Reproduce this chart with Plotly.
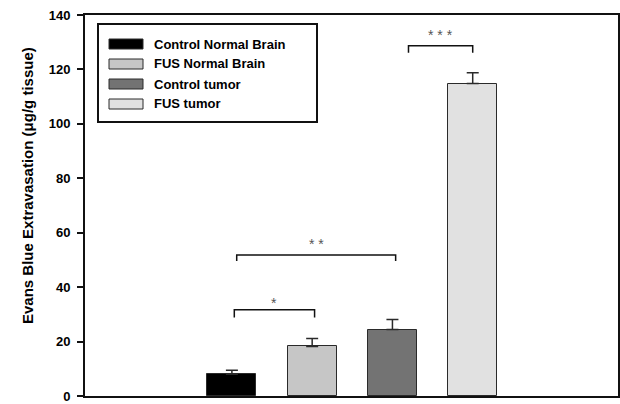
import plotly.graph_objects as go

# ---- data ----
groups = ["Control Normal Brain", "FUS Normal Brain", "Control tumor", "FUS tumor"]
values = [8.0, 18.2, 24.4, 114.8]
errors = [1.5, 2.9, 3.7, 4.0]
colors = ["#000000", "#c6c6c6", "#737373", "#e1e1e1"]
y_ticks = [0, 20, 40, 60, 80, 100, 120, 140]
y_title = "Evans Blue Extravasation (μg/g tissue)"

# significance brackets
sig_x0 = [0.03, 0.06, 2.2]
sig_x1 = [1.03, 2.04, 3.0]
sig_top = [31.7, 51.8, 128.7]
sig_leg = [28.8, 49.6, 126.1]
sig_star_y = [34.0, 56.0, 132.6]
sig_labels = ["*", "* *", "* * *"]

positions = list(range(len(groups)))

# plot-area pixel geometry (for the hand-made legend)
L, R, T, B = 85, 618, 15, 396
W, H = 620, 404


def px(x):
    return (x - L) / (R - L)


def py(y):
    return (B - y) / (B - T)


fig = go.Figure()
for i, g in enumerate(groups):
    fig.add_trace(go.Bar(
        x=[positions[i]], y=[values[i]], name=g,
        width=0.61,
        marker=dict(color=colors[i], line=dict(color="#2a2a2a", width=1)),
        error_y=dict(type="data", symmetric=False, array=[errors[i]], arrayminus=[0],
                     color="#2a2a2a", thickness=1.5, width=6),
        showlegend=False,
    ))

shapes = []
annotations = []
for x0, x1, top, leg, sy, lab in zip(sig_x0, sig_x1, sig_top, sig_leg, sig_star_y, sig_labels):
    shapes.append(dict(type="path", xref="x", yref="y",
                       path=f"M {x0},{leg} L {x0},{top} L {x1},{top} L {x1},{leg}",
                       line=dict(color="#111111", width=1.5)))
    annotations.append(dict(x=(x0 + x1) / 2, y=sy, xref="x", yref="y", text=lab,
                            showarrow=False, font=dict(size=14, color="#555555",
                                                       family="Arial, Liberation Sans")))

# hand-made legend (wide swatches as in the reference)
shapes.append(dict(type="rect", xref="paper", yref="paper",
                   x0=px(98), x1=px(317), y0=py(122), y1=py(24),
                   line=dict(color="#111111", width=2), fillcolor="white", layer="above"))
for i, g in enumerate(groups):
    yc = 44 + 20 * i
    shapes.append(dict(type="rect", xref="paper", yref="paper",
                       x0=px(109), x1=px(143), y0=py(yc + 5), y1=py(yc - 5),
                       line=dict(color="#2a2a2a", width=1), fillcolor=colors[i], layer="above"))
    annotations.append(dict(x=px(152), y=py(yc), xref="paper", yref="paper", text=f"<b>{g}</b>",
                            showarrow=False, xanchor="left", yanchor="middle",
                            font=dict(size=13, color="#000000", family="Arial, Liberation Sans")))

annotations.append(dict(x=px(27), y=py(186), xref="paper", yref="paper", text=f"<b>{y_title}</b>",
                        textangle=-90, showarrow=False, xanchor="center", yanchor="middle",
                        font=dict(size=15, color="#000000", family="Arial, Liberation Sans")))

fig.update_layout(
    width=W, height=H, autosize=False,
    margin=dict(l=L, r=W - R, t=T, b=H - B, pad=0, autoexpand=False),
    paper_bgcolor="white", plot_bgcolor="white",
    shapes=shapes, annotations=annotations,
    font=dict(family="Arial, Liberation Sans", color="#000000"),
    xaxis=dict(range=[-1.83, 4.81], showticklabels=False, ticks="", showgrid=False,
               zeroline=False, showline=True, linecolor="#111111", linewidth=2, mirror=True,
               fixedrange=True, automargin=False),
    yaxis=dict(range=[0, 140], tickvals=y_ticks, ticktext=[f"<b>{v}</b>" for v in y_ticks],
               tickfont=dict(size=13, color="#000000"), ticks="outside", ticklen=6,
               tickwidth=1.5, tickcolor="#111111", showgrid=False, zeroline=False,
               showline=True, linecolor="#111111", linewidth=2, mirror=True,
               ticklabelstandoff=4, ticklabeloverflow="allow", automargin=False),
    bargap=0,
)

fig.write_html("out.html", config={"displayModeBar": False, "responsive": False},
               post_script="document.body.style.margin='0';document.body.style.overflow='hidden';")
